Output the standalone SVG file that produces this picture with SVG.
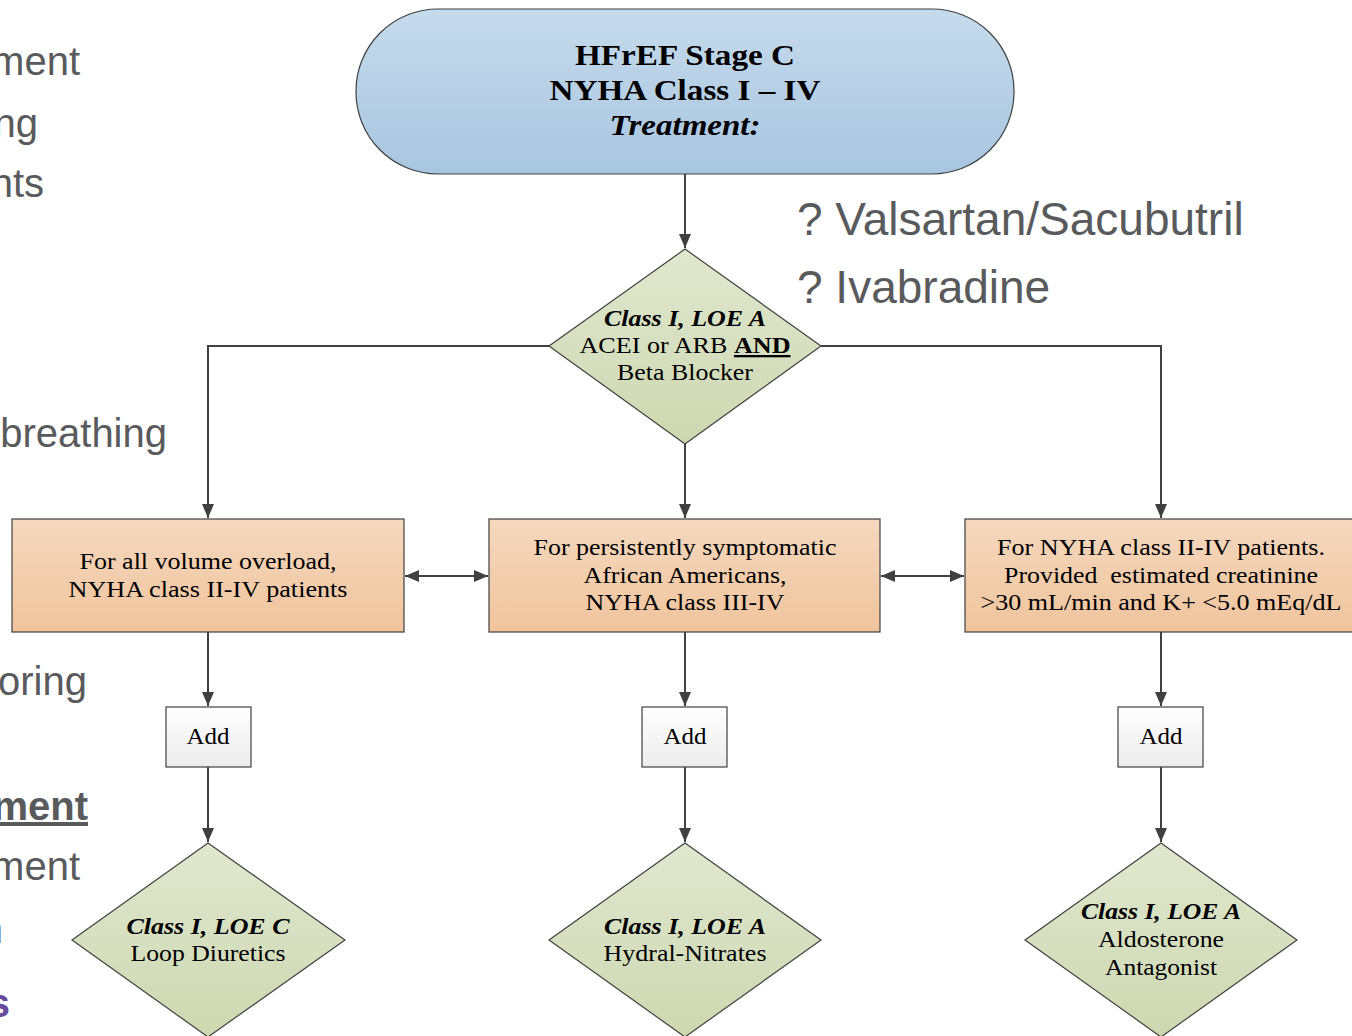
<svg xmlns="http://www.w3.org/2000/svg" width="1352" height="1036" viewBox="0 0 1352 1036">
<defs>
<linearGradient id="gBlue" x1="0" y1="0" x2="0" y2="1"><stop offset="0" stop-color="#c6dbec"/><stop offset="1" stop-color="#a8c5e0"/></linearGradient>
<linearGradient id="gGreen" x1="0" y1="0" x2="0" y2="1"><stop offset="0" stop-color="#e0e7cf"/><stop offset="1" stop-color="#cdd8b0"/></linearGradient>
<linearGradient id="gOrange" x1="0" y1="0" x2="0" y2="1"><stop offset="0" stop-color="#f5d8be"/><stop offset="1" stop-color="#f0c49d"/></linearGradient>
<linearGradient id="gWhite" x1="0" y1="0" x2="0" y2="1"><stop offset="0" stop-color="#ffffff"/><stop offset="1" stop-color="#ececec"/></linearGradient>
<marker id="arr" viewBox="0 0 14 12" refX="14" refY="6" markerWidth="14" markerHeight="12" markerUnits="userSpaceOnUse" orient="auto-start-reverse"><path d="M0,0 L14,6 L0,12 Z" fill="#404040"/></marker>
</defs>
<style>
.bg{font-family:"Liberation Sans",Arial,sans-serif;font-size:40px;fill:#595a5c;text-anchor:end}
.side{font-family:"Liberation Sans",Arial,sans-serif;font-size:46px;fill:#595a5c}
.t{font-family:"Liberation Serif","Times New Roman",serif;font-size:23px;fill:#000;text-anchor:middle}
.h{font-family:"Liberation Serif","Times New Roman",serif;font-size:30px;font-weight:bold;fill:#000;text-anchor:middle}
.bi{font-weight:bold;font-style:italic}
.shape{stroke:#404040;stroke-width:1.2}
.conn{fill:none;stroke:#404040;stroke-width:2}
</style>
<g id="background-text">
<text class="bg" x="80" y="75">ment</text>
<text class="bg" x="38" y="137">ng</text>
<text class="bg" x="44" y="197">nts</text>
<text class="bg" x="167" y="447">breathing</text>
<text class="bg" x="87" y="695">oring</text>
<text class="bg" x="88" y="820" font-weight="bold" text-decoration="underline">ment</text>
<text class="bg" x="80" y="880">ment</text>
<text class="bg" x="3" y="943">n</text>
<text class="bg" x="10" y="1017" font-weight="bold" style="fill:#6a4a9c">s</text>
<text class="side" x="797" y="235">? Valsartan/Sacubutril</text>
<text class="side" x="797" y="303">? Ivabradine</text>
</g>
<g id="connectors">
<line class="conn" x1="685" y1="174" x2="685" y2="248" marker-end="url(#arr)"/>
<polyline class="conn" points="549,346 208,346 208,518" marker-end="url(#arr)"/>
<polyline class="conn" points="821,346 1161,346 1161,518" marker-end="url(#arr)"/>
<line class="conn" x1="685" y1="444" x2="685" y2="518" marker-end="url(#arr)"/>
<line class="conn" x1="405" y1="576" x2="488" y2="576" marker-start="url(#arr)" marker-end="url(#arr)"/>
<line class="conn" x1="881" y1="576" x2="964" y2="576" marker-start="url(#arr)" marker-end="url(#arr)"/>
<line class="conn" x1="208" y1="632" x2="208" y2="706" marker-end="url(#arr)"/>
<line class="conn" x1="685" y1="632" x2="685" y2="706" marker-end="url(#arr)"/>
<line class="conn" x1="1161" y1="632" x2="1161" y2="706" marker-end="url(#arr)"/>
<line class="conn" x1="208" y1="767" x2="208" y2="842" marker-end="url(#arr)"/>
<line class="conn" x1="685" y1="767" x2="685" y2="842" marker-end="url(#arr)"/>
<line class="conn" x1="1161" y1="767" x2="1161" y2="842" marker-end="url(#arr)"/>
</g>
<g id="start">
<rect class="shape" x="356" y="9" width="658" height="165" rx="82" ry="82" fill="url(#gBlue)"/>
<text class="h" x="685" y="65" textLength="220" lengthAdjust="spacingAndGlyphs">HFrEF Stage C</text>
<text class="h" x="685" y="100" textLength="271" lengthAdjust="spacingAndGlyphs">NYHA Class I – IV</text>
<text class="h" x="685" y="135" font-style="italic" textLength="151" lengthAdjust="spacingAndGlyphs">Treatment:</text>
</g>
<g id="decision-main">
<polygon class="shape" points="685,249 821,346 685,444 549,346" fill="url(#gGreen)"/>
<text class="t bi" x="685" y="326" textLength="162" lengthAdjust="spacingAndGlyphs">Class I, LOE A</text>
<text class="t" x="685" y="353" textLength="211" lengthAdjust="spacingAndGlyphs">ACEI or ARB <tspan font-weight="bold" text-decoration="underline">AND</tspan></text>
<text class="t" x="685" y="380" textLength="136" lengthAdjust="spacingAndGlyphs">Beta Blocker</text>
</g>
<g id="box-left">
<rect class="shape" x="12" y="519" width="392" height="113" fill="url(#gOrange)"/>
<text class="t" x="208" y="569" textLength="257" lengthAdjust="spacingAndGlyphs">For all volume overload,</text>
<text class="t" x="208" y="597" textLength="279" lengthAdjust="spacingAndGlyphs">NYHA class II-IV patients</text>
</g>
<g id="box-middle">
<rect class="shape" x="489" y="519" width="391" height="113" fill="url(#gOrange)"/>
<text class="t" x="685" y="555" textLength="303" lengthAdjust="spacingAndGlyphs">For persistently symptomatic</text>
<text class="t" x="685" y="583" textLength="203" lengthAdjust="spacingAndGlyphs">African Americans,</text>
<text class="t" x="685" y="610" textLength="199" lengthAdjust="spacingAndGlyphs">NYHA class III-IV</text>
</g>
<g id="box-right">
<rect class="shape" x="965" y="519" width="392" height="113" fill="url(#gOrange)"/>
<text class="t" x="1161" y="555" textLength="328" lengthAdjust="spacingAndGlyphs">For NYHA class II-IV patients.</text>
<text class="t" x="1161" y="583" xml:space="preserve" textLength="314" lengthAdjust="spacingAndGlyphs">Provided  estimated creatinine</text>
<text class="t" x="1161" y="610" textLength="361" lengthAdjust="spacingAndGlyphs">&gt;30 mL/min and K+ &lt;5.0 mEq/dL</text>
</g>
<g id="add-left">
<rect class="shape" x="166" y="707" width="85" height="60" fill="url(#gWhite)"/>
<text class="t" x="208" y="744" textLength="43" lengthAdjust="spacingAndGlyphs">Add</text>
</g>
<g id="add-middle">
<rect class="shape" x="642" y="707" width="85" height="60" fill="url(#gWhite)"/>
<text class="t" x="685" y="744" textLength="43" lengthAdjust="spacingAndGlyphs">Add</text>
</g>
<g id="add-right">
<rect class="shape" x="1118" y="707" width="85" height="60" fill="url(#gWhite)"/>
<text class="t" x="1161" y="744" textLength="43" lengthAdjust="spacingAndGlyphs">Add</text>
</g>
<g id="decision-left">
<polygon class="shape" points="208,843 345,940 208,1037 72,940" fill="url(#gGreen)"/>
<text class="t bi" x="208" y="934" textLength="163" lengthAdjust="spacingAndGlyphs">Class I, LOE C</text>
<text class="t" x="208" y="961" textLength="155" lengthAdjust="spacingAndGlyphs">Loop Diuretics</text>
</g>
<g id="decision-middle">
<polygon class="shape" points="685,843 821,940 685,1037 549,940" fill="url(#gGreen)"/>
<text class="t bi" x="685" y="934" textLength="162" lengthAdjust="spacingAndGlyphs">Class I, LOE A</text>
<text class="t" x="685" y="961" textLength="163" lengthAdjust="spacingAndGlyphs">Hydral-Nitrates</text>
</g>
<g id="decision-right">
<polygon class="shape" points="1161,843 1297,940 1161,1037 1025,940" fill="url(#gGreen)"/>
<text class="t bi" x="1161" y="919" textLength="160" lengthAdjust="spacingAndGlyphs">Class I, LOE A</text>
<text class="t" x="1161" y="947" textLength="126" lengthAdjust="spacingAndGlyphs">Aldosterone</text>
<text class="t" x="1161" y="975" textLength="112" lengthAdjust="spacingAndGlyphs">Antagonist</text>
</g>
</svg>
